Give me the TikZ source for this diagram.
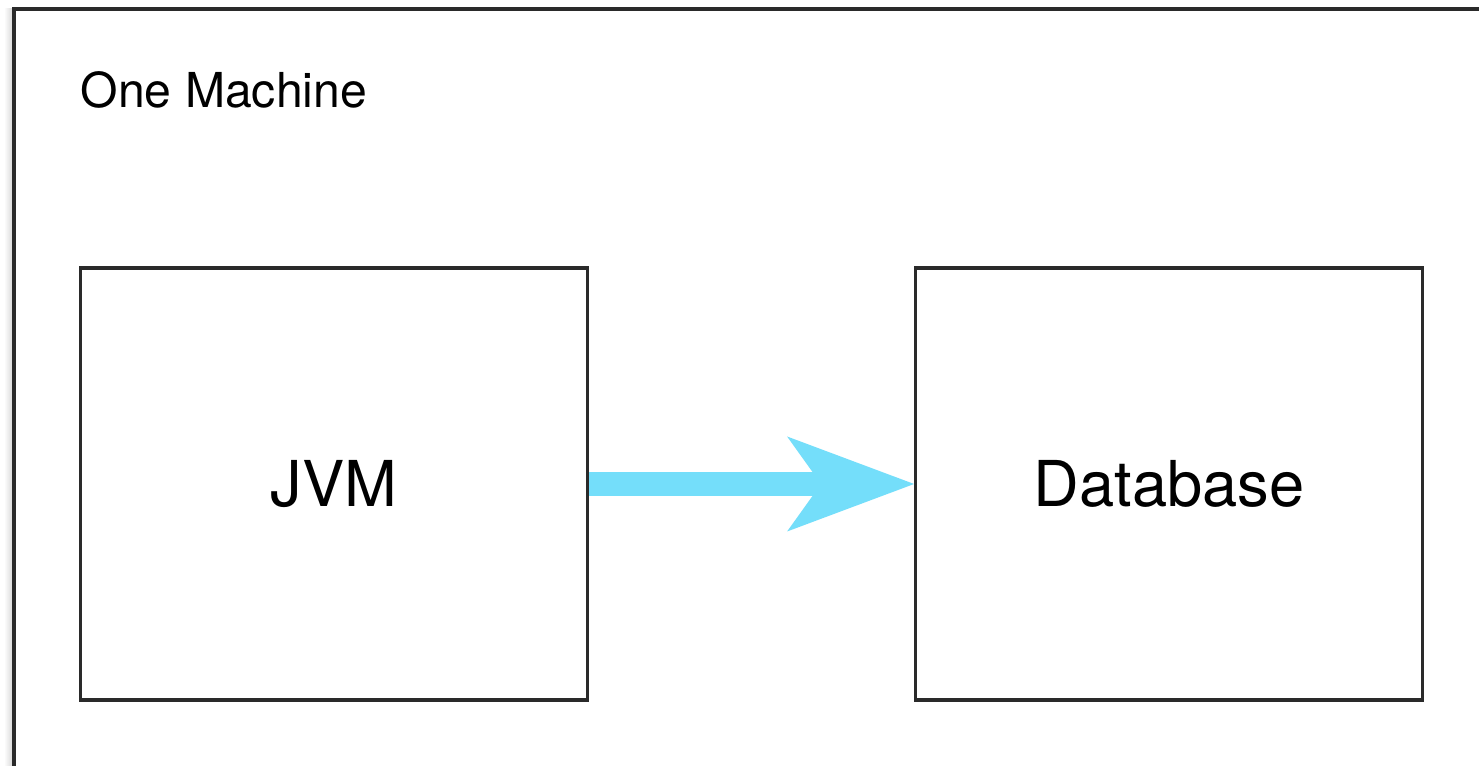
\documentclass[tikz,border=0pt]{standalone}
\usepackage{fontspec}
\setmainfont{TeX Gyre Heros}
\usepackage{tikz}
\usetikzlibrary{positioning,arrows.meta}
\usepackage{xcolor}
\definecolor{flowcyan}{HTML}{74DEFA}
\definecolor{framegray}{HTML}{2A2A2A}

\begin{document}
\begin{tikzpicture}[node distance=1.5cm and 3.25cm,
  compbox/.style={draw=framegray,line width=0.9pt,minimum width=5.07cm,minimum height=4.32cm,inner sep=0pt,font=\fontsize{18}{22}\selectfont},
  flow/.style={flowcyan,line width=6.8pt,-{Stealth[length=12.7mm,width=9.5mm,inset=3.4mm,line width=0pt]}}]
\clip (0,0) rectangle (14.79,7.66);
\fill[white] (0,0) rectangle (14.79,7.66);
% machine frame
\fill[left color=white,right color=black!18] (0.04,-0.5) rectangle (0.14,7.57);
\draw[framegray,line width=0.9pt,fill=white] (0.14,-0.5) rectangle (15.3,7.57);
\node[anchor=base west,font=\fontsize{13.7}{16}\selectfont,inner sep=0pt] (title) at (0.80,6.58) {One Machine};
\node[compbox] (jvm) at (3.34,2.82) {JVM};
\node[compbox] (db) [right=of jvm] {Database};
\draw[flow] (jvm.east) -- (db.west);
\end{tikzpicture}
\end{document}
